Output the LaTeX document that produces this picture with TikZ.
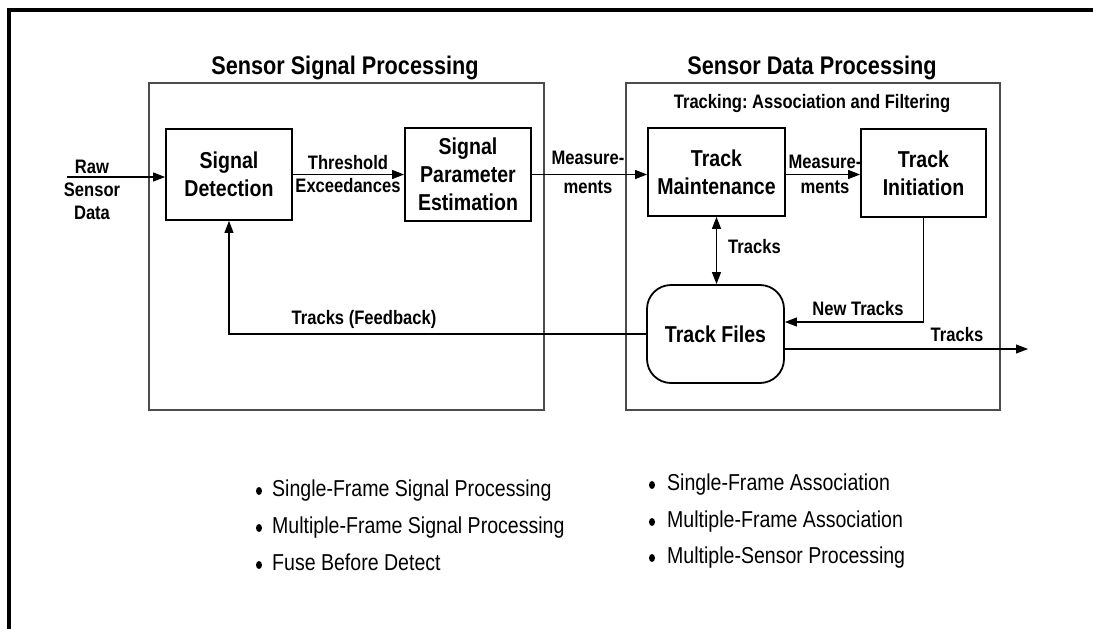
\documentclass[tikz,border=0pt]{standalone}
\usepackage{fontspec}
\setmainfont[FakeStretch=0.85]{Liberation Sans}
\usetikzlibrary{arrows.meta}
\frenchspacing

\begin{document}
\begin{tikzpicture}[x=1pt, y=-1pt,
            frame/.style={draw=black!70, line width=1.2pt},
            block/.style={draw, line width=1.8pt, align=center, inner sep=0pt,
                font=\fontsize{23}{28}\selectfont\bfseries},
            lbl/.style={align=center, inner sep=0pt, font=\fontsize{19.5}{23}\selectfont\bfseries},
            heading/.style={inner sep=0pt, font=\fontsize{25.5}{30}\selectfont\bfseries},
            item/.style={anchor=base west, inner sep=0pt, font=\fontsize{23}{28}\selectfont},
            flow/.style={line width=1.1pt, -{Triangle[length=12pt, width=9pt]}},
            flowboth/.style={line width=1.1pt, {Triangle[length=12pt, width=9pt]}-{Triangle[length=12pt, width=9pt]}}]
            \useasboundingbox (0,0) rectangle (1093,629);

            % outer frame
            \draw[line width=4pt] (9,640) -- (9,10) -- (1100,10);

            % headings
            \node[heading] (ssptitle) at (345,68) {Sensor Signal Processing};
            \node[heading] (sdptitle) at (812,68) {Sensor Data Processing};

            % containers
            \draw[frame] (149,83) rectangle (544,410);
            \draw[frame] (626,83) rectangle (1000,410);
            \node[inner sep=0pt, font=\fontsize{19.5}{24}\selectfont\bfseries] (trktitle) at (812,103)
                {Tracking: Association and Filtering};

            % blocks
            \node[block, minimum width=126pt, minimum height=91pt] (sd) at (229,174.5) {Signal\\Detection};
            \node[block, minimum width=126pt, minimum height=93pt] (spe) at (468,174.5) {Signal\\Parameter\\Estimation};
            \node[block, minimum width=137pt, minimum height=88pt] (tm) at (716.5,172) {Track\\Maintenance};
            \node[block, minimum width=125pt, minimum height=88pt] (ti) at (923.5,173) {Track\\Initiation};
            \node[block, rounded corners=24pt, minimum width=137pt, minimum height=98pt] (tf) at (715.5,334) {Track Files};

            % connectors
            \coordinate (rawin) at (67,177);
            \coordinate (trkout) at (1028,349);
            \draw[flow] (rawin) -- (rawin -| sd.west);
            \draw[flow] (sd.east) -- (spe.west);
            \draw[flow] (spe.east) -- (spe.east -| tm.west);
            \draw[flow] (spe.east -| tm.east) -- (spe.east -| ti.west);
            \draw[flowboth] (tm.south) -- (tm.south |- tf.north);
            \draw[flow] (ti.south) |- ([yshift=12pt]tf.east);
            \draw[flow] (tf.east |- trkout) -- (trkout);
            \draw[flow] (tf.west) -| (sd.south);

            % connector labels
            \node[lbl] (rawlbl) at (92,190) {Raw\\Sensor\\Data};
            \node[lbl] (thrlbl) at (348,174.5) {Threshold\\Exceedances};
            \node[lbl] (meas1) at (588,172) {Measure-\\[6pt]ments};
            \node[lbl] (meas2) at (825,174.5) {Measure-\\[2pt]ments};
            \node[lbl, anchor=west] (trklbl) at (728,247) {Tracks};
            \node[lbl] (newlbl) at (858,309) {New Tracks};
            \node[lbl] (outlbl) at (957,335) {Tracks};
            \node[lbl] (fblbl) at (364,319) {Tracks (Feedback)};

            % bullet lists
            \node[item] (ls1) at (272,496) {Single-Frame Signal Processing};
            \node[item] (ls2) at (272,533) {Multiple-Frame Signal Processing};
            \node[item] (ls3) at (272,570) {Fuse Before Detect};
            \node[item] (rs1) at (667,490) {Single-Frame Association};
            \node[item] (rs2) at (667,527) {Multiple-Frame Association};
            \node[item] (rs3) at (667,563) {Multiple-Sensor Processing};
            \fill ([xshift=-13pt, yshift=5pt]ls1.base west) ellipse (3pt and 4pt);
            \fill ([xshift=-13pt, yshift=5pt]ls2.base west) ellipse (3pt and 4pt);
            \fill ([xshift=-13pt, yshift=5pt]ls3.base west) ellipse (3pt and 4pt);
            \fill ([xshift=-15pt, yshift=5pt]rs1.base west) ellipse (3pt and 4pt);
            \fill ([xshift=-15pt, yshift=5pt]rs2.base west) ellipse (3pt and 4pt);
            \fill ([xshift=-15pt, yshift=5pt]rs3.base west) ellipse (3pt and 4pt);
\end{tikzpicture}
\end{document}
